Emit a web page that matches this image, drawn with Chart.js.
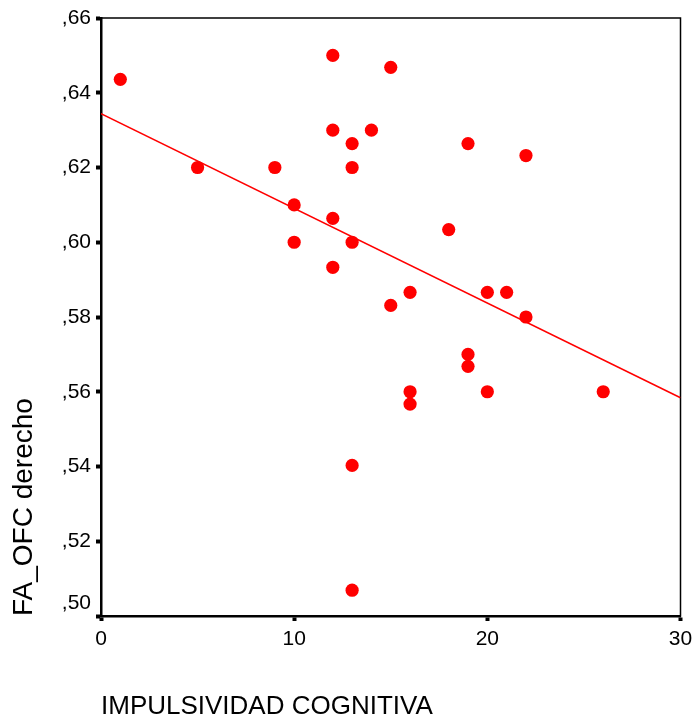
<!DOCTYPE html>
<html>
<head>
<meta charset="utf-8">
<script src="https://cdn.jsdelivr.net/npm/chart.js"></script>
<style>
  html, body { margin: 0; padding: 0; background: #fff; }
  #wrap { width: 694px; height: 723px; position: relative; }
</style>
</head>
<body>
<div id="wrap"><canvas id="chart"></canvas></div>
<script>
// impulsividad cognitiva (x) vs FA_OFC derecho (y)
const impulsividad = [1, 5, 9, 10, 10, 12, 12, 12, 12, 13, 13, 13, 13, 13, 14, 15, 15, 16, 16, 16, 18, 19, 19, 19, 20, 20, 21, 22, 22, 26];
const faOfc = [0.6436, 0.620, 0.620, 0.610, 0.600, 0.650, 0.630, 0.6064, 0.5933, 0.6264, 0.620, 0.600, 0.5403, 0.5069, 0.630,
  0.6468, 0.5831, 0.5866, 0.560, 0.5567, 0.6034, 0.6264, 0.570, 0.5668, 0.5866, 0.560, 0.5866, 0.6232, 0.580, 0.560];

// fit line end points
const fitX = [0, 30];
const fitY = [0.6344, 0.5584];

const xTicks = [0, 10, 20, 30];
const yTicks = [0.50, 0.52, 0.54, 0.56, 0.58, 0.60, 0.62, 0.64, 0.66];

const FONT = "'Liberation Sans', Arial, sans-serif";

// thin frame round the plot (top and right sides)
const frame = {
  id: "frame",
  beforeDatasetsDraw(chart) {
    const { ctx, chartArea: a } = chart;
    ctx.save();
    ctx.strokeStyle = "#000";
    ctx.lineWidth = 1.5;
    ctx.strokeRect(a.left, a.top, a.right - a.left, a.bottom - a.top);
    ctx.restore();
  }
};

new Chart(document.getElementById("chart"), {
  data: {
    datasets: [
      {
        type: "scatter",
        data: impulsividad.map((x, i) => ({ x, y: faOfc[i] })),
        backgroundColor: "#ff0000",
        borderWidth: 0,
        pointRadius: 6.6,
        pointHoverRadius: 6.6,
        order: 1
      },
      {
        type: "line",
        data: fitX.map((x, i) => ({ x, y: fitY[i] })),
        borderColor: "#ff0000",
        borderWidth: 1.5,
        pointRadius: 0,
        fill: false,
        order: 2
      }
    ]
  },
  options: {
    responsive: true,
    maintainAspectRatio: false,
    animation: false,
    layout: { padding: { top: 18, right: 13.5, bottom: 0, left: 0 } },
    plugins: { legend: { display: false }, tooltip: { enabled: false } },
    scales: {
      x: {
        type: "linear",
        min: 0,
        max: 30,
        afterFit: s => { s.height = 107; s.paddingRight = 0; s.paddingLeft = 0; },
        afterBuildTicks: s => { s.ticks = xTicks.map(v => ({ value: v })); },
        ticks: { color: "#000", font: { family: FONT, size: 21 }, padding: 6, maxRotation: 0 },
        grid: { drawOnChartArea: false, drawTicks: true, tickLength: 5, tickWidth: 4, tickColor: "#000" },
        border: { display: true, color: "#000", width: 2.5 },
        title: {
          display: true,
          text: "IMPULSIVIDAD COGNITIVA",
          align: "start",
          color: "#000",
          font: { family: FONT, size: 26 },
          padding: { top: 0, bottom: 1 }
        }
      },
      y: {
        type: "linear",
        min: 0.50,
        max: 0.66,
        afterFit: s => { s.width = 101; },
        afterBuildTicks: s => { s.ticks = yTicks.map(v => ({ value: v })); },
        ticks: {
          color: "#000",
          font: { family: FONT, size: 21 },
          padding: 5,
          callback: v => {
            const s = "," + v.toFixed(2).split(".")[1];
            return v === 0.50 ? [s, ""] : s;
          }
        },
        grid: { drawOnChartArea: false, drawTicks: true, tickLength: 5, tickWidth: 4, tickColor: "#000" },
        border: { display: true, color: "#000", width: 2.5 },
        title: {
          display: true,
          text: "FA_OFC derecho",
          align: "start",
          color: "#000",
          font: { family: FONT, size: 28 },
          padding: { top: 7, bottom: 0 }
        }
      }
    }
  },
  plugins: [frame]
});
</script>
</body>
</html>
